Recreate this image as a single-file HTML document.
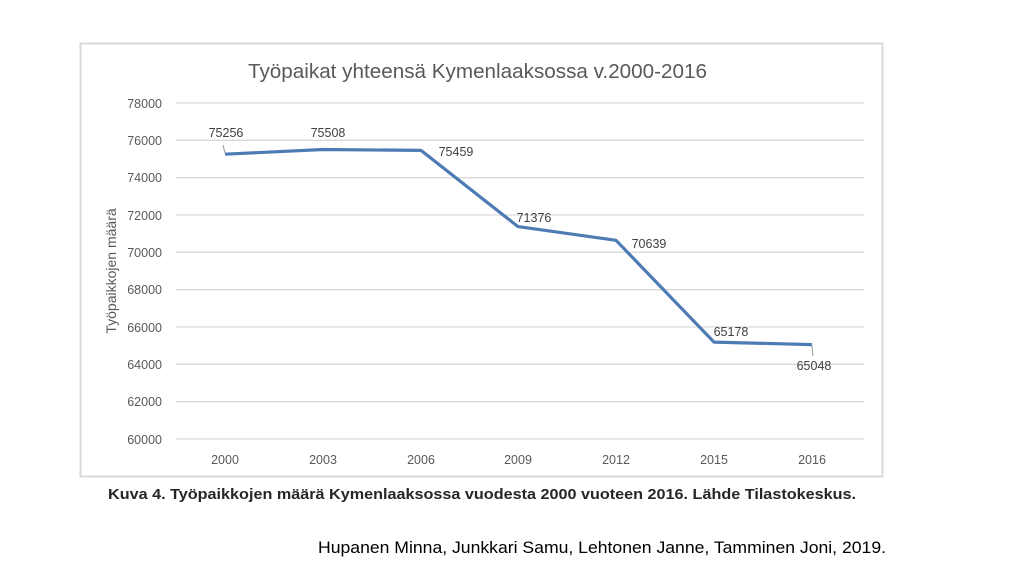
<!DOCTYPE html>
<html><head><meta charset="utf-8"><style>
body{margin:0;background:#fff;width:1024px;height:576px;overflow:hidden;font-family:"Liberation Sans",sans-serif}
</style></head><body>
<svg width="1024" height="576" viewBox="0 0 1024 576" xmlns="http://www.w3.org/2000/svg" font-family="Liberation Sans, sans-serif">
<rect x="80.5" y="43.5" width="802" height="433" fill="#fff" stroke="#d9d9d9" stroke-width="2"/>
<text x="248" y="78" font-size="20.5" fill="#595959" textLength="459" lengthAdjust="spacingAndGlyphs">Työpaikat yhteensä Kymenlaaksossa v.2000-2016</text>
<g stroke="#d9d9d9" stroke-width="1.3">
<line x1="176" x2="864" y1="103" y2="103"/><line x1="176" x2="864" y1="140.3" y2="140.3"/>
<line x1="176" x2="864" y1="177.7" y2="177.7"/><line x1="176" x2="864" y1="215" y2="215"/>
<line x1="176" x2="864" y1="252.3" y2="252.3"/><line x1="176" x2="864" y1="289.7" y2="289.7"/>
<line x1="176" x2="864" y1="327" y2="327"/><line x1="176" x2="864" y1="364.3" y2="364.3"/>
<line x1="176" x2="864" y1="401.7" y2="401.7"/><line x1="176" x2="864" y1="439" y2="439"/>
</g>
<g font-size="12.5" fill="#595959" text-anchor="end">
<text x="162" y="108">78000</text><text x="162" y="145">76000</text><text x="162" y="182">74000</text>
<text x="162" y="220">72000</text><text x="162" y="257">70000</text><text x="162" y="294">68000</text>
<text x="162" y="332">66000</text><text x="162" y="369">64000</text><text x="162" y="406">62000</text>
<text x="162" y="444">60000</text>
</g>
<g font-size="12.5" fill="#595959" text-anchor="middle">
<text x="225" y="464">2000</text><text x="323" y="464">2003</text><text x="421" y="464">2006</text>
<text x="518" y="464">2009</text><text x="616" y="464">2012</text><text x="714" y="464">2015</text>
<text x="812" y="464">2016</text>
</g>
<text transform="translate(116,271) rotate(-90)" text-anchor="middle" font-size="14" fill="#595959">Työpaikkojen määrä</text>
<polyline fill="none" stroke="#4f7bb5" stroke-width="3.2" stroke-linejoin="round" points="225,154.2 323,149.5 421,150.4 518,226.6 616,240.3 714,342.1 812,344.6"/>
<line x1="223" y1="145" x2="225" y2="153" stroke="#999" stroke-width="1"/>
<line x1="812" y1="346" x2="813" y2="356" stroke="#999" stroke-width="1"/>
<g font-size="12.5" fill="#404040" text-anchor="middle">
<text x="226" y="137">75256</text><text x="328" y="137">75508</text><text x="456" y="156">75459</text>
<text x="534" y="222">71376</text><text x="649" y="248">70639</text><text x="731" y="336">65178</text>
<text x="814" y="370">65048</text>
</g>
<text x="108" y="499" font-size="15" font-weight="bold" fill="#262626" textLength="748" lengthAdjust="spacingAndGlyphs">Kuva 4. Työpaikkojen määrä Kymenlaaksossa vuodesta 2000 vuoteen 2016. Lähde Tilastokeskus.</text>
<text x="318" y="553" font-size="17" fill="#000" textLength="568" lengthAdjust="spacingAndGlyphs">Hupanen Minna, Junkkari Samu, Lehtonen Janne, Tamminen Joni, 2019.</text>
</svg>
</body></html>
